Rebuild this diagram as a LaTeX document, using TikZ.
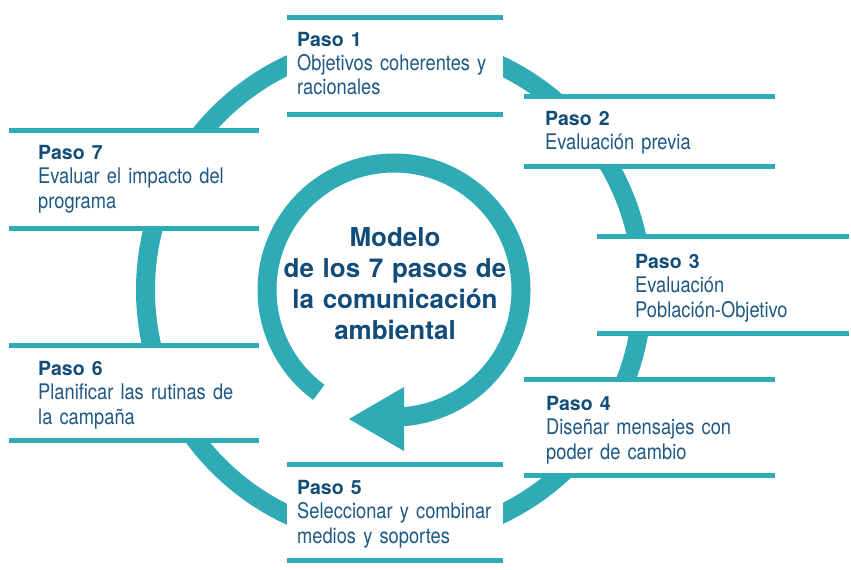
\documentclass[tikz,border=0pt]{standalone}
\usepackage{fontspec}
\setmainfont{TeX Gyre Heros}
\newfontfamily\condfont[FakeStretch=0.85]{TeX Gyre Heros}
\definecolor{MODteal}{RGB}{46,171,180}
\definecolor{MODnavy}{RGB}{18,76,120}
\definecolor{MODblue}{RGB}{30,88,132}

\begin{document}
\begin{tikzpicture}[x=1pt, y=-1pt,
      pasoline/.style={MODteal, line width=5pt},
      pasotext/.style={anchor=base west, inner sep=0pt, text width=250pt, align=left,
         text=MODblue, font=\fontsize{21.5}{24.5}\selectfont\condfont}]
   \newcommand{\pasohead}[1]{{\rmfamily\bfseries\fontsize{19.5}{24.5}\selectfont\color{MODnavy}#1}}
   \useasboundingbox (0,0) rectangle (851,570);
   \coordinate (c) at (394,290);
   % Outer ring
   \draw[MODteal, line width=19pt] (c) circle[radius=248.5];
   % Inner circular arrow
   \draw[MODteal, line width=19pt] (c) ++(126.3:127) arc[start angle=126.3, end angle=447, radius=127];
   \fill[MODteal] (404,387) -- (349,419) -- (404,451) -- cycle;
   % Step boxes: white band with teal lines above and below
   \foreach \xa/\xb/\ya/\yb in {287/503/17.5/114.5, 524/775/96.5/166.5,
         597/849/236.5/333.5, 524/775/379.5/475.5, 287/503/464.5/560.5,
         9/259/345.5/440.5, 9/259/130.5/228.5}{
      \fill[white] (\xa,\ya) rectangle (\xb,\yb);
      \draw[pasoline] (\xa,\ya) -- (\xb,\ya);
      \draw[pasoline] (\xa,\yb) -- (\xb,\yb);
   }
   % Step texts
   \node[pasotext] (paso1) at (297,46) {\pasohead{Paso 1}\\Objetivos coherentes y\\racionales};
   \node[pasotext] (paso2) at (545,125) {\pasohead{Paso 2}\\Evaluación previa};
   \node[pasotext] (paso3) at (635,268) {\pasohead{Paso 3}\\Evaluación\\Población-Objetivo};
   \node[pasotext] (paso4) at (546,410) {\pasohead{Paso 4}\\Diseñar mensajes con\\poder de cambio};
   \node[pasotext] (paso5) at (297,494) {\pasohead{Paso 5}\\Seleccionar y combinar\\medios y soportes};
   \node[pasotext] (paso6) at (38,375) {\pasohead{Paso 6}\\Planificar las rutinas de\\la campaña};
   \node[pasotext] (paso7) at (38,159) {\pasohead{Paso 7}\\Evaluar el impacto del\\programa};
   % Centre title
   \node[anchor=base, inner sep=0pt, text width=280pt, align=center, text=MODnavy,
      font=\fontsize{26}{31}\selectfont\bfseries] (modelo) at (395,246)
      {Modelo\\de los 7 pasos de\\la comunicación\\ambiental};
\end{tikzpicture}
\end{document}
